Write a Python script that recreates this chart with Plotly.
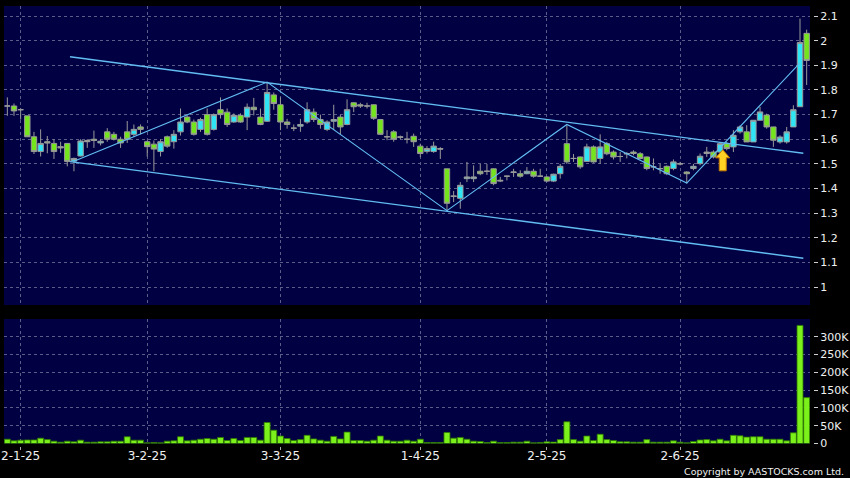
import pandas as pd
import plotly.graph_objects as go

# ---------------- data ----------------
holidays = ["2025-01-01", "2025-01-29", "2025-01-30", "2025-01-31", "2025-04-04",
            "2025-04-18", "2025-04-21", "2025-05-01", "2025-05-05"]
dates = [d for d in pd.bdate_range("2024-12-30", "2025-06-27")
         if d.strftime("%Y-%m-%d") not in holidays]

open_ = [1.735, 1.735, 1.72, 1.695, 1.61, 1.55, 1.59, 1.583, 1.57, 1.583,
         1.511, 1.532, 1.595, 1.60, 1.585, 1.63, 1.62, 1.60, 1.63, 1.62,
         1.65, 1.59, 1.58, 1.55, 1.61, 1.59, 1.63, 1.69, 1.67, 1.64,
         1.70, 1.64, 1.72, 1.71, 1.67, 1.697, 1.69, 1.73, 1.69, 1.673,
         1.78, 1.74, 1.67, 1.645, 1.653, 1.67, 1.71, 1.68, 1.64, 1.673,
         1.69, 1.66, 1.748, 1.74, 1.735, 1.74, 1.68, 1.61, 1.63, 1.61,
         1.60, 1.612, 1.572, 1.551, 1.55, 1.562, 1.48, 1.37, 1.36, 1.44,
         1.44, 1.47, 1.47, 1.48, 1.43, 1.45, 1.465, 1.46, 1.46, 1.47,
         1.45, 1.447, 1.43, 1.46, 1.582, 1.522, 1.528, 1.51, 1.569, 1.522,
         1.582, 1.548, 1.53, 1.54, 1.548, 1.541, 1.528, 1.488, 1.48, 1.49,
         1.481, 1.50, 1.467, 1.481, 1.501, 1.542, 1.548, 1.548, 1.582, 1.569,
         1.63, 1.63, 1.589, 1.677, 1.698, 1.65, 1.589, 1.589, 1.65, 1.732,
         2.03]
high = [1.77, 1.745, 1.725, 1.695, 1.63, 1.64, 1.613, 1.60, 1.59, 1.585,
        1.525, 1.60, 1.60, 1.635, 1.60, 1.645, 1.63, 1.61, 1.674, 1.66,
        1.66, 1.595, 1.595, 1.60, 1.615, 1.637, 1.725, 1.697, 1.68, 1.687,
        1.725, 1.705, 1.77, 1.725, 1.705, 1.705, 1.745, 1.768, 1.725, 1.83,
        1.79, 1.77, 1.683, 1.66, 1.683, 1.75, 1.725, 1.70, 1.677, 1.74,
        1.70, 1.762, 1.75, 1.748, 1.748, 1.741, 1.68, 1.637, 1.637, 1.615,
        1.63, 1.623, 1.582, 1.572, 1.59, 1.568, 1.48, 1.39, 1.426, 1.508,
        1.494, 1.50, 1.50, 1.482, 1.447, 1.452, 1.48, 1.474, 1.487, 1.48,
        1.48, 1.45, 1.46, 1.50, 1.657, 1.54, 1.53, 1.582, 1.575, 1.62,
        1.589, 1.555, 1.548, 1.548, 1.555, 1.548, 1.53, 1.522, 1.50, 1.494,
        1.518, 1.508, 1.47, 1.50, 1.542, 1.569, 1.555, 1.589, 1.589, 1.637,
        1.657, 1.657, 1.677, 1.732, 1.704, 1.65, 1.616, 1.65, 1.738, 2.09,
        2.045]
low = [1.695, 1.695, 1.68, 1.61, 1.54, 1.53, 1.543, 1.52, 1.545, 1.49,
       1.47, 1.53, 1.565, 1.565, 1.575, 1.59, 1.595, 1.565, 1.585, 1.61,
       1.62, 1.53, 1.47, 1.53, 1.565, 1.562, 1.615, 1.665, 1.615, 1.63,
       1.615, 1.635, 1.684, 1.65, 1.667, 1.667, 1.637, 1.697, 1.657, 1.67,
       1.72, 1.637, 1.643, 1.633, 1.63, 1.663, 1.67, 1.643, 1.633, 1.637,
       1.62, 1.657, 1.71, 1.727, 1.725, 1.678, 1.617, 1.596, 1.59, 1.60,
       1.583, 1.569, 1.528, 1.542, 1.545, 1.52, 1.31, 1.345, 1.318, 1.426,
       1.426, 1.454, 1.455, 1.413, 1.426, 1.433, 1.447, 1.444, 1.458, 1.444,
       1.447, 1.426, 1.426, 1.44, 1.50, 1.508, 1.48, 1.508, 1.505, 1.50,
       1.535, 1.518, 1.508, 1.522, 1.535, 1.518, 1.474, 1.474, 1.46, 1.454,
       1.474, 1.494, 1.42, 1.474, 1.494, 1.528, 1.522, 1.542, 1.555, 1.548,
       1.623, 1.589, 1.589, 1.677, 1.643, 1.569, 1.582, 1.582, 1.65, 1.732,
       1.82]
close = [1.735, 1.715, 1.72, 1.61, 1.55, 1.583, 1.585, 1.55, 1.565, 1.51,
         1.522, 1.593, 1.59, 1.595, 1.592, 1.60, 1.60, 1.585, 1.60, 1.64,
         1.64, 1.57, 1.56, 1.59, 1.572, 1.62, 1.67, 1.67, 1.62, 1.68,
         1.62, 1.70, 1.70, 1.66, 1.697, 1.67, 1.73, 1.72, 1.66, 1.79,
         1.745, 1.67, 1.66, 1.645, 1.66, 1.72, 1.68, 1.66, 1.67, 1.68,
         1.65, 1.72, 1.732, 1.735, 1.735, 1.685, 1.62, 1.61, 1.60, 1.608,
         1.60, 1.59, 1.542, 1.562, 1.572, 1.56, 1.34, 1.368, 1.413, 1.447,
         1.447, 1.46, 1.47, 1.42, 1.433, 1.45, 1.467, 1.45, 1.47, 1.45,
         1.45, 1.43, 1.458, 1.49, 1.508, 1.522, 1.488, 1.569, 1.508, 1.569,
         1.541, 1.528, 1.53, 1.542, 1.542, 1.522, 1.481, 1.488, 1.481, 1.46,
         1.508, 1.50, 1.46, 1.49, 1.531, 1.548, 1.528, 1.582, 1.562, 1.616,
         1.65, 1.589, 1.677, 1.711, 1.65, 1.596, 1.609, 1.63, 1.72, 1.993,
         1.92]
volume_k = [12, 7.5, 9.4, 10, 10, 15, 11, 6.6, 3.8, 6.6,
            4.7, 9.4, 3.8, 3.8, 4.7, 4.7, 6.6, 6.6, 19, 9.4,
            9.4, 1.9, 2.8, 1.9, 6.6, 7.5, 19, 7.5, 9.4, 12,
            14, 12, 17, 8.4, 14, 8.4, 17, 17, 9.4, 59,
            37.5, 21, 14, 8.4, 11, 23, 13, 9.4, 6.6, 20,
            13, 32, 8.4, 8.4, 6.6, 9.4, 21, 9.4, 6.6, 6.6,
            9.4, 6.6, 12, 2.8, 2.8, 2.8, 31, 15, 17, 12,
            6.6, 5.6, 2.8, 6.6, 2.8, 2.8, 3.8, 3.8, 6.6, 1.9,
            2.8, 4.7, 4, 11, 61, 11, 6.6, 21, 8.4, 26,
            11, 8.4, 4.7, 4.7, 3.8, 3.8, 11, 3.8, 3.8, 3.8,
            7.5, 3.8, 1.9, 5.6, 10, 11, 7.5, 12, 7.5, 23,
            21.6, 18, 19, 19, 12, 12, 12, 7.5, 30, 332,
            129]
volume = [v * 1000 for v in volume_k]

# trend channel and zigzag (candle index, price)
channel_idx = [9.4, 119.5]
channel_upper = [1.935, 1.543]
channel_lower = [1.509, 1.117]
zigzag_idx = [10, 39, 66, 84, 102, 119]
zigzag_price = [1.511, 1.832, 1.31, 1.66, 1.422, 1.91]
arrow_idx = 107.4
arrow_price = 1.557

price_ticks = [1.0, 1.1, 1.2, 1.3, 1.4, 1.5, 1.6, 1.7, 1.8, 1.9, 2.0, 2.1]
price_ticktext = ["1", "1.1", "1.2", "1.3", "1.4", "1.5", "1.6", "1.7", "1.8", "1.9", "2", "2.1"]
vol_ticks = [0, 50000, 100000, 150000, 200000, 250000, 300000]
vol_ticktext = ["0", "50K", "100K", "150K", "200K", "250K", "300K"]
date_tick_dates = ["2025-01-02", "2025-02-03", "2025-03-03", "2025-04-01", "2025-05-02", "2025-06-02"]

# ---------------- build ----------------
assert len(dates) == len(open_) == len(high) == len(low) == len(close) == len(volume)
x = list(range(len(dates)))
date_str = [d.strftime("%Y-%m-%d") for d in dates]
tickvals = [date_str.index(s) for s in date_tick_dates]
ticktext = [f"{dates[i].day}-{dates[i].month}-{dates[i]:%y}" for i in tickvals]

CYAN = "#2FE4F4"
GREEN = "#74E41C"
WICK = "#9A9A9A"
GRID = "#5C5C88"
LINE = "#62BDF2"
NAVY = "#000042"

fig = go.Figure()
fig.add_trace(go.Candlestick(
    x=x, open=open_, high=high, low=low, close=close,
    xaxis="x", yaxis="y", whiskerwidth=0, hoverinfo="skip",
    increasing=dict(line=dict(color=WICK, width=1), fillcolor=CYAN),
    decreasing=dict(line=dict(color=WICK, width=1), fillcolor=GREEN),
))
for ys in (channel_upper, channel_lower):
    fig.add_trace(go.Scatter(x=channel_idx, y=ys, mode="lines", xaxis="x", yaxis="y",
                             line=dict(color=LINE, width=1.4), hoverinfo="skip"))
fig.add_trace(go.Scatter(x=zigzag_idx, y=zigzag_price, mode="lines", xaxis="x", yaxis="y",
                         line=dict(color=LINE, width=1.1), hoverinfo="skip"))
fig.add_trace(go.Bar(x=x, y=volume, xaxis="x2", yaxis="y2", hoverinfo="skip",
                     marker=dict(color="#7CF01A", line=dict(color="#2F7A00", width=0.8))))

# block up-arrow (pixel-sized, anchored at its tip)
fig.add_shape(type="path", xref="x", yref="y", xsizemode="pixel", ysizemode="pixel",
              xanchor=arrow_idx, yanchor=arrow_price,
              path="M 0 0 L 7 -8 L 3.5 -8 L 3.5 -21 L -3.5 -21 L -3.5 -8 L -7 -8 Z",
              fillcolor="#FFD024", line=dict(color="#C87A00", width=1), layer="above")

fig.add_annotation(text="Copyright by AASTOCKS.com Ltd.", xref="paper", yref="paper",
                   x=0.995, y=0.0133, xanchor="right", yanchor="middle", showarrow=False,
                   font=dict(size=9.5, color="#F0F0F0", family="DejaVu Sans"))

XD = [0, 0.95272]
YPOS = 0.95626
common_grid = dict(showgrid=True, gridcolor=GRID, griddash="3px,3px", gridwidth=1,
                   zeroline=False, showline=False, fixedrange=True)
fig.update_layout(
    width=850, height=478,
    margin=dict(l=4, r=0, t=6, b=0, pad=0),
    paper_bgcolor="black", plot_bgcolor=NAVY,
    showlegend=False, boxgap=0.1, boxgroupgap=0.1, bargap=0.1,
    font=dict(family="DejaVu Sans", color="#F0F0F0"),
    xaxis=dict(domain=XD, range=[-0.5, 120.5], anchor="y", tickmode="array",
               tickvals=tickvals, showticklabels=False, ticks="",
               rangeslider=dict(visible=False), **common_grid),
    yaxis=dict(domain=[0.36653, 1], range=[0.927, 2.141], anchor="free", position=YPOS,
               side="right", tickmode="array", tickvals=price_ticks, ticktext=price_ticktext,
               ticks="outside", ticklen=4, tickcolor="#CFCFCF", tickfont=dict(size=11),
               automargin=False, **common_grid),
    xaxis2=dict(domain=XD, range=[-0.5, 120.5], anchor="free", position=0.0678,
                tickmode="array", tickvals=tickvals, ticktext=ticktext,
                ticks="outside", ticklen=3, tickcolor="#AAAAAA", tickfont=dict(size=12),
                ticklabelstandoff=-4, automargin=False, **common_grid),
    yaxis2=dict(domain=[0.07309, 0.33686], range=[0, 350000], anchor="free", position=YPOS,
                side="right", tickmode="array", tickvals=vol_ticks, ticktext=vol_ticktext,
                ticks="outside", ticklen=4, tickcolor="#CFCFCF", tickfont=dict(size=11),
                automargin=False, **common_grid),
)

fig.write_html("out.html", config={"displayModeBar": False, "staticPlot": True},
               post_script="document.body.style.margin='0';document.body.style.background='black';")
